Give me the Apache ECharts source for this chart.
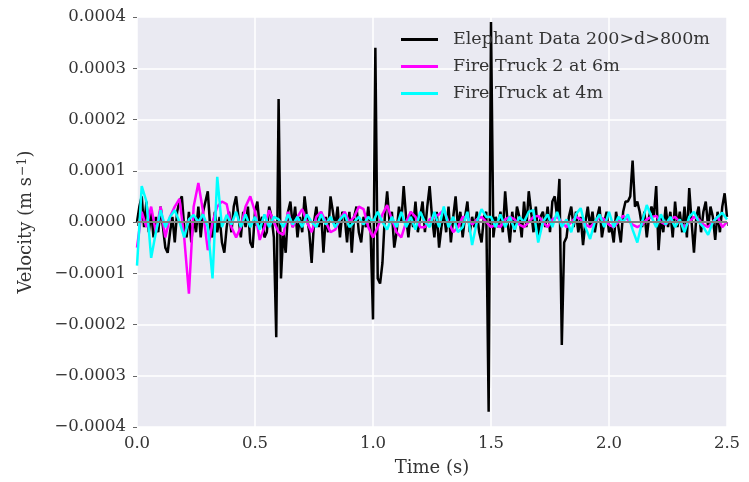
<!DOCTYPE html>
<html>
<head>
<meta charset="utf-8">
<script src="https://cdn.jsdelivr.net/npm/echarts@6/dist/echarts.min.js"></script>
<style>
  html, body { margin: 0; padding: 0; background: #fff; }
  #main { width: 749px; height: 482px; }
</style>
</head>
<body>
<div id="main"></div>
<script>
// values are in units of 1e-5 m/s
var UNIT = 1e-5;
var elephantStep = 0.01;
var truckStep = 0.02;

// Elephant Data 200>d>800m, 0.00 .. 2.50 s
var elephant = [
  0, 3, 5, -1, 4, -2, 2, -3, 1, -2,
  3, -1, -5, -6, -2, 1, -4, 2, 4, 5,
  -1, -3, 2, -4, 1, -2, 3, -3, 2, 4,
  6, -1, -3, 2, -2, 1, -4, -6, -1, 2,
  -2, 3, 5, 1, -3, 2, -1, 3, -4, -5,
  2, 4, -1, 1, -3, -2, 3, 1, -3, -22.5,
  24, -11, -2, -6, 2, 4, -1, 3, -3, 1,
  -2, 5, 1, -2, -8, 0, 3, -1, 2, -6,
  1, -2, 5, 2, -1, 3, -3, 2, 1, -4,
  2, -6, 1, 3, -2, -4, 1, -1, 3, -2,
  -19, 34, -11, -12, -8, 1, 6, 0, 2, -5,
  -2, 3, 0, 7, 1, -3, 2, -1, 4, -2,
  1, 4, -2, 3, 7, 1, -3, 2, -5, -1,
  2, -2, 3, -4, 1, 5, -1, 2, -3, 1,
  4, -2, 1, -1, 2, -2, -4, 1, 2, -37,
  39, -3, 1, -1, 2, -2, 6, 0, -4, 2,
  -2, 3, 1, -3, 4, -1, 6, 2, -2, 3,
  -3, 1, 2, -1, 3, -2, 4, 5, 1, 8.4,
  -24, -4, -3, 1, 3, -1, 2, -2, 1, -4.5,
  0, 3, -1, 2, -2, 1, 3, -3, 0, 2,
  -2, -1, -4, 2, -1, -4, 2, 4, 4, 5,
  12, 3, 4, 2, -1, 2, -3, 1, 3, 1,
  7, -5.5, 1, -2, 3, -1, 2, -3, 4, -1,
  2, -2, 3, -3, 6.6, 0, -6, 1, 3, -2,
  2, 4, -1, 3, 1, -3.5, 2, -2, 3, 5.6,
  1
];

// Fire Truck 2 at 6m, 0.00 .. 2.50 s
var truck2 = [
  -5, 2, -1, 3, -2, 3, -3, 1, 3, 4.5,
  -3, -14, 3, 7.6, 2, -5.5, 0, 3, 4, 3.5,
  -1, -3, -1, 3, 5, 2, -3.5, -1, 2.3, 0,
  -2, -2.5, 2, -1, 1, 2.5, 0, -2, 1, 2,
  0, -2, -1.5, 0.5, 2, 0, 1, 3, 2.5, -1,
  -3, -1, 1.5, 3.3, 0.5, -2, -3, 0, 2, 1,
  -1, -1, 0.5, 1, 1.5, 2.3, 0, -2, -1, 1,
  1, -0.5, 0.5, 1, 0, -1, -0.5, -1, 0.5, 1,
  0.5, -0.5, -1, 0, 1, 1.2, 0, -1, 0.5, 1,
  0, -1, 0, 1, 0.5, -0.5, -1, 0, 1, 0.5,
  -0.5, -1, 0, 1.2, 0.5, -0.5, -1, -0.5, 0.5, 1,
  1.2, 0, -0.5, 0.5, 1, 0, -1, 0, 1, 0.5,
  -0.5, -1, 0, 1, -1, 0
];

// Fire Truck at 4m, 0.00 .. 2.50 s
var truck1 = [
  -8.5, 7, 4, -7, -2, 2.3, -1, 1, 2.3, 0,
  -3, 0.5, 1.4, 0, 1.5, -1, -11, 8.8, -1, 1.4,
  -0.5, 2, -1, 1.5, -1, 1, -1.5, 1.5, -1, 1,
  0.5, -1, 1.5, -0.5, 1, -1, 1.5, 0, -1, 1.5,
  -0.5, 1, -1, 0.5, 1.5, -1, 0, 1, -0.5, 1,
  0, 2, 0, -1.5, 1, -1, 2, -1, 1, -1.5,
  2, 0, -1, 2, -1, 3, -1, 1, -2, -1,
  2, -4.5, 0, 2.5, 1, 1, -1, 1.5, -1, 1,
  -1.5, 1, 0, 2, 2.3, -4, 0, 1.5, -1, 2,
  -1, 0.5, -2, 1.5, 2.7, -1, -3.3, 0, 1.5, -1,
  2, -1, 1, 0, 1.5, -1.5, -4, 0, 3.3, 1,
  -1, 1.5, -0.5, 1, -1, 0.5, -2, 1, 2, 0,
  -1, -2.5, 0, 1, 1.8, 0.5
];

var seriesNames = ['Elephant Data 200>d>800m', 'Fire Truck 2 at 6m', 'Fire Truck at 4m'];
var seriesColors = ['#000000', '#ff00ff', '#00ffff'];

function toPairs(arr, step) {
  var out = [];
  for (var i = 0; i < arr.length; i++) {
    out.push([+(i * step).toFixed(2), arr[i] * UNIT]);
  }
  return out;
}

var font = 'DejaVu Serif';
var chart = echarts.init(document.getElementById('main'));

var option = {
  animation: false,
  backgroundColor: '#ffffff',
  textStyle: { fontFamily: font },
  grid: {
    left: 137, right: 22, top: 17, bottom: 54,
    show: true, backgroundColor: '#eaeaf2', borderWidth: 0
  },
  legend: {
    orient: 'vertical',
    left: 396,
    top: 25,
    itemWidth: 37,
    itemHeight: 3,
    itemGap: 8,
    icon: 'rect',
    data: seriesNames,
    textStyle: { fontFamily: font, fontSize: 17.5, color: '#333', lineHeight: 19, padding: [0, 0, 0, 10] }
  },
  xAxis: {
    type: 'value',
    min: 0, max: 2.5, interval: 0.5,
    name: 'Time (s)',
    nameLocation: 'middle',
    nameGap: 32,
    nameTextStyle: { fontFamily: font, fontSize: 18, color: '#333' },
    axisLine: { show: false },
    axisTick: { show: true, length: 4, lineStyle: { color: '#666' } },
    axisLabel: {
      fontFamily: font, fontSize: 16.5, color: '#333', margin: 8,
      formatter: function (v) { return v.toFixed(1); }
    },
    splitLine: { show: true, lineStyle: { color: '#ffffff', width: 1.5 } }
  },
  yAxis: {
    type: 'value',
    min: -0.0004, max: 0.0004, interval: 0.0001,
    name: 'Velocity (m s{sup|\u22121})',
    nameLocation: 'middle',
    nameGap: 100,
    nameTextStyle: {
      fontFamily: font, fontSize: 18, color: '#333',
      rich: {
        sup: { fontFamily: font, fontSize: 12.5, color: '#333', verticalAlign: 'top', padding: [0, 0, 8, 1] }
      }
    },
    axisLine: { show: false },
    axisTick: { show: true, length: 4, lineStyle: { color: '#666' } },
    axisLabel: {
      fontFamily: font, fontSize: 16.5, color: '#333', margin: 11,
      formatter: function (v) {
        var s = Math.abs(v) < 1e-9 ? '0.0000' : v.toFixed(4);
        return s.replace('-', '\u2212');
      }
    },
    splitLine: { show: true, lineStyle: { color: '#ffffff', width: 1.5 } }
  },
  series: [
    {
      name: seriesNames[0],
      type: 'line',
      data: toPairs(elephant, elephantStep),
      showSymbol: false,
      color: seriesColors[0],
      lineStyle: { width: 2.5, color: seriesColors[0] }
    },
    {
      name: seriesNames[1],
      type: 'line',
      data: toPairs(truck2, truckStep),
      showSymbol: false,
      color: seriesColors[1],
      lineStyle: { width: 2.5, color: seriesColors[1] }
    },
    {
      name: seriesNames[2],
      type: 'line',
      data: toPairs(truck1, truckStep),
      showSymbol: false,
      color: seriesColors[2],
      lineStyle: { width: 2.5, color: seriesColors[2] },
      markLine: {
        silent: true,
        symbol: 'none',
        label: { show: false },
        lineStyle: { color: '#808080', type: 'solid', width: 2 },
        data: [{ yAxis: 0 }]
      }
    }
  ]
};

chart.setOption(option);
</script>
</body>
</html>
